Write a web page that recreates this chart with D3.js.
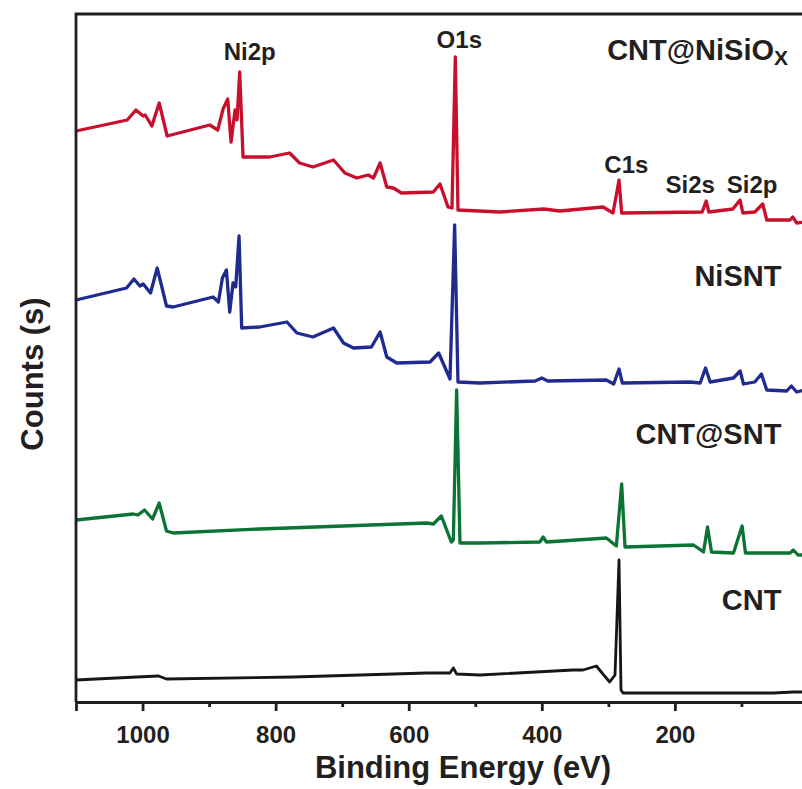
<!DOCTYPE html>
<html>
<head>
<meta charset="utf-8">
<script src="https://cdn.jsdelivr.net/npm/d3@7"></script>
<style>
  body { margin: 0; background: #fff; }
  text { font-family: "Liberation Sans", Arial, sans-serif; font-weight: bold; fill: #231f20; }
</style>
</head>
<body>
<div id="chart"></div>
<script>
// binding energy (eV) / counts (offset, arbitrary units)
const cntE = [1100, 1009, 976, 964, 773, 573, 538, 533, 528, 493, 353, 338, 318, 307, 298, 290, 284, 281, 278, 52, 22, 5];
const cntC = [22, 25, 26, 23, 25, 29, 29, 34, 28, 27, 32, 32, 36, 27, 20, 27, 142, 12, 9, 9, 10, 10];

const sntE = [1100, 1014, 1007, 997, 985, 975, 964, 954, 824, 573, 563, 551, 536, 533, 528, 523, 493, 403, 398, 393, 303, 288, 280, 275, 172, 157, 151, 145, 112, 99, 94, 27, 22, 15, 5];
const sntC = [182, 188, 187, 192, 183, 199, 171, 169, 173, 179, 178, 186, 160, 162, 312, 159, 159, 160, 165, 160, 164, 156, 218, 155, 157, 150, 175, 150, 149, 176, 149, 149, 152, 147, 147];

const nisntE = [1100, 1024, 1013, 1004, 999, 988, 978, 964, 954, 894, 886, 880, 874, 869, 864, 860, 855, 851, 824, 783, 768, 744, 713, 698, 683, 656, 643, 633, 618, 568, 555, 538, 531, 526, 493, 410, 400, 391, 303, 292, 284, 279, 177, 162, 154, 147, 112, 102, 97, 80, 70, 62, 32, 25, 17, 5];
const nisntC = [402, 414, 423, 416, 418, 409, 434, 396, 395, 405, 400, 424, 432, 390, 419, 415, 466, 374, 375, 380, 369, 365, 374, 359, 354, 355, 370, 345, 339, 340, 349, 323, 477, 320, 319, 321, 324, 321, 322, 318, 333, 319, 320, 319, 334, 320, 324, 331, 318, 320, 328, 312, 311, 316, 310, 312];

const nisioE = [1100, 1023, 1010, 999, 996, 986, 975, 963, 899, 887, 879, 872, 867, 861, 858, 854, 849, 809, 779, 764, 744, 713, 696, 678, 661, 653, 643, 633, 623, 611, 563, 553, 541, 535, 530, 526, 463, 397, 373, 308, 293, 284, 280, 159, 153, 149, 113, 102, 98, 80, 68, 62, 27, 23, 17, 5];
const nisioC = [571, 582, 592, 586, 587, 576, 599, 566, 577, 572, 593, 603, 560, 592, 582, 630, 545, 545, 549, 539, 535, 542, 529, 524, 527, 524, 539, 515, 514, 509, 510, 518, 495, 494, 645, 492, 490, 493, 491, 495, 489, 522, 489, 490, 501, 490, 493, 502, 489, 490, 498, 482, 482, 485, 479, 480];

const seriesNames = ["CNT@NiSiO", "NiSNT", "CNT@SNT", "CNT"];
const seriesColors = ["#c8102e", "#1f2b8e", "#0b7434", "#1a1415"];

const peakNames = ["Ni2p", "O1s", "C1s", "Si2s", "Si2p"];
const peakE = [839, 524, 273, 177, 84];
const peakC = [642, 654, 529, 509, 509];

const majorTicks = [1000, 800, 600, 400, 200];
const minorTicks = [900, 700, 500, 300, 100];

const width = 802, height = 789;
const margin = {top: 14, left: 76, bottom: 87};

const svg = d3.select("#chart").append("svg")
    .attr("width", width)
    .attr("height", height);

const x = d3.scaleLinear().domain([1100, 0]).range([margin.left, 808]);
const y = d3.scaleLinear().domain([0, 688]).range([height - margin.bottom, margin.top]);

const series = [
  {name: seriesNames[0], color: seriesColors[0], e: nisioE, c: nisioC, labelC: 642},
  {name: seriesNames[1], color: seriesColors[1], e: nisntE, c: nisntC, labelC: 416},
  {name: seriesNames[2], color: seriesColors[2], e: sntE, c: sntC, labelC: 258},
  {name: seriesNames[3], color: seriesColors[3], e: cntE, c: cntC, labelC: 92}
];

const line = d3.line()
    .x(d => x(d[0]))
    .y(d => y(d[1]));

// spectra
svg.append("g").selectAll("path")
  .data(series)
  .enter()
  .append("path")
    .attr("d", s => line(s.e.map((v, i) => [v, s.c[i]])))
    .attr("fill", "none")
    .attr("stroke", s => s.color)
    .attr("stroke-width", (s, i) => i == 3 ? 2.8 : 3.3)
    .attr("stroke-linejoin", "round");

// frame: top + left
svg.append("path")
    .attr("d", `M${x(0)},${y(688)}H${x(1100)}V${y(0)}`)
    .attr("fill", "none")
    .attr("stroke", "#231f20")
    .attr("stroke-width", 2.8);

// bottom axis
const xAxis = svg.append("g")
    .attr("transform", `translate(0,${y(0)})`)
    .call(d3.axisBottom(x).tickValues(majorTicks).tickSize(9).tickPadding(15).tickFormat(d3.format("d")));
xAxis.select(".domain").attr("stroke", "#231f20").attr("stroke-width", 2.8);
xAxis.selectAll(".tick line").attr("stroke", "#231f20").attr("stroke-width", 2.8);
xAxis.selectAll(".tick text")
    .style("font-size", "24px")
    .style("font-family", "'Liberation Sans', Arial, sans-serif")
    .style("font-weight", "bold")
    .attr("fill", "#231f20");

const xMinor = svg.append("g")
    .attr("transform", `translate(0,${y(0)})`)
    .call(d3.axisBottom(x).tickValues(minorTicks).tickSize(5).tickFormat(""));
xMinor.select(".domain").remove();
xMinor.selectAll(".tick line").attr("stroke", "#231f20").attr("stroke-width", 2.8);

// axis titles
svg.append("text")
    .attr("x", 463)
    .attr("y", 778)
    .attr("text-anchor", "middle")
    .style("font-size", "31px")
    .text("Binding Energy (eV)");

svg.append("text")
    .attr("transform", "translate(43,374) rotate(-90)")
    .attr("text-anchor", "middle")
    .style("font-size", "31px")
    .text("Counts (s)");

// peak labels
svg.append("g").selectAll("text")
  .data(peakNames)
  .enter()
  .append("text")
    .attr("x", (d, i) => x(peakE[i]))
    .attr("y", (d, i) => y(peakC[i]))
    .attr("text-anchor", "middle")
    .style("font-size", "24px")
    .text(d => d);

// series labels
const labels = svg.append("g").selectAll("text")
  .data(series)
  .enter()
  .append("text")
    .attr("x", (s, i) => i == 0 ? x(30) : x(40))
    .attr("y", s => y(s.labelC))
    .attr("text-anchor", "end")
    .style("font-size", "29px");
labels.append("tspan").text(s => s.name);
labels.filter((s, i) => i == 0)
  .append("tspan")
    .attr("dy", 5)
    .style("font-size", "21px")
    .text("X");
</script>
</body>
</html>
